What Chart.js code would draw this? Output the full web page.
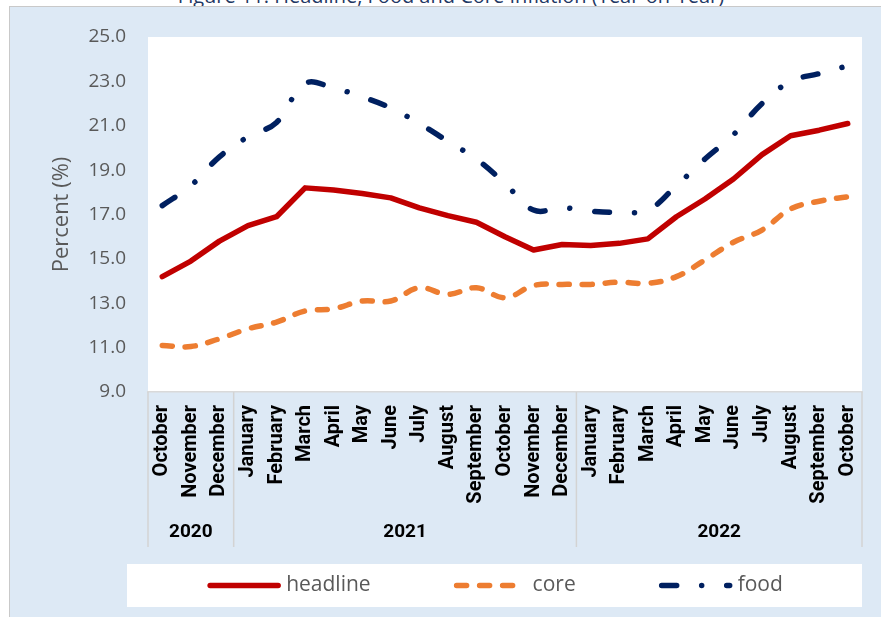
<!DOCTYPE html>
<html>
<head>
<meta charset="utf-8">
<script src="https://cdn.jsdelivr.net/npm/chart.js@4.4.0/dist/chart.umd.min.js"></script>
<style>
  html, body { margin: 0; padding: 0; background: #fff; width: 881px; height: 617px; overflow: hidden; }
  #title {
    position: absolute; top: -14px; left: 451px; transform: translateX(-50%);
    white-space: nowrap; font: 20px "Open Sans", sans-serif; line-height: 20px; color: #1f3864;
  }
  #panel {
    position: absolute; left: 9px; top: 6px; width: 871px; height: 610px;
    background: #dde9f5; border-left: 1px solid #c9c9c9; border-top: 1px solid #c9c9c9;
  }
  #panel canvas { display: block; }
</style>
</head>
<body>
<div id="title">Figure 11: Headline, Food and Core Inflation (Year-on-Year)</div>
<div id="panel"><canvas id="inflationChart" width="871" height="610"></canvas></div>
<script>
const months = ["October", "November", "December",
  "January", "February", "March", "April", "May", "June", "July", "August", "September", "October", "November", "December",
  "January", "February", "March", "April", "May", "June", "July", "August", "September", "October"];
const years = ["2020", "2020", "2020",
  "2021", "2021", "2021", "2021", "2021", "2021", "2021", "2021", "2021", "2021", "2021", "2021",
  "2022", "2022", "2022", "2022", "2022", "2022", "2022", "2022", "2022", "2022"];

const headline = [14.2, 14.9, 15.8, 16.5, 16.9, 18.2, 18.1, 17.95, 17.75, 17.3, 16.95, 16.65, 16.0,
  15.4, 15.65, 15.6, 15.7, 15.9, 16.9, 17.7, 18.6, 19.7, 20.55, 20.8, 21.1];
const core = [11.1, 11.05, 11.4, 11.85, 12.15, 12.65, 12.75, 13.1, 13.1, 13.7, 13.4, 13.7, 13.25,
  13.8, 13.85, 13.85, 13.95, 13.9, 14.2, 14.95, 15.75, 16.3, 17.25, 17.6, 17.8];
const food = [17.4, 18.3, 19.6, 20.5, 21.15, 22.9, 22.7, 22.3, 21.8, 21.1, 20.3, 19.5, 18.4,
  17.2, 17.3, 17.15, 17.1, 17.2, 18.3, 19.5, 20.6, 22.0, 23.0, 23.35, 23.7];

const yMin = 9, yMax = 25, yStep = 2;
const xAxisHeight = 172;

// white plotting area over the blue panel
const plotBackground = {
  id: "plotBackground",
  beforeDraw(chart) {
    const { ctx, chartArea: a } = chart;
    ctx.save();
    ctx.fillStyle = "#ffffff";
    ctx.fillRect(a.left, a.top, a.right - a.left, a.bottom - a.top);
    ctx.restore();
  },
};

// year row under the month labels, with separators between years
const yearGroups = {
  id: "yearGroups",
  afterDraw(chart) {
    const { ctx, chartArea: a } = chart;
    const x = chart.scales.x;
    const step = x.getPixelForValue(1) - x.getPixelForValue(0);
    const groups = [];
    years.forEach((y, i) => {
      if (!groups.length || groups[groups.length - 1].label != y) groups.push({ label: y, from: i, to: i });
      else groups[groups.length - 1].to = i;
    });
    ctx.save();
    ctx.strokeStyle = "#d3d3d3";
    ctx.lineWidth = 1.5;
    ctx.fillStyle = "#000";
    ctx.font = "bold 19px Roboto";
    ctx.textAlign = "center";
    ctx.textBaseline = "middle";
    groups.forEach((g, k) => {
      const left = x.getPixelForValue(g.from) - step / 2;
      const right = x.getPixelForValue(g.to) + step / 2;
      ctx.beginPath();
      ctx.moveTo(left, a.bottom);
      ctx.lineTo(left, a.bottom + 155);
      if (k == groups.length - 1) {
        ctx.moveTo(right, a.bottom);
        ctx.lineTo(right, a.bottom + 155);
      }
      ctx.stroke();
      ctx.fillText(g.label, (left + right) / 2, a.bottom + 140);
    });
    ctx.restore();
  },
};

// legend in a white strip at the bottom
const legendBox = {
  id: "legendBox",
  afterDraw(chart) {
    const { ctx, chartArea: a } = chart;
    const top = a.bottom + xAxisHeight;
    const bottom = chart.height - 10;
    const left = a.left - 21;
    const right = a.right;
    ctx.save();
    ctx.fillStyle = "#ffffff";
    ctx.fillRect(left, top, right - left, bottom - top);
    ctx.font = '21px "Open Sans"';
    ctx.textBaseline = "middle";
    const sample = 68, textGap = 8, itemGap = 86;
    const items = chart.data.datasets.map((ds) => ({ ds, w: sample + textGap + ctx.measureText(ds.label).width }));
    const total = items.reduce((s, it) => s + it.w, 0) + itemGap * (items.length - 1);
    let cx = (left + right) / 2 - total / 2 + 2;
    const cy = (top + bottom) / 2;
    items.forEach((it) => {
      ctx.strokeStyle = it.ds.borderColor;
      ctx.lineWidth = it.ds.borderWidth;
      ctx.lineCap = "round";
      ctx.setLineDash(it.ds.borderDash || []);
      ctx.beginPath();
      ctx.moveTo(cx, cy);
      ctx.lineTo(cx + sample, cy);
      ctx.stroke();
      ctx.setLineDash([]);
      ctx.fillStyle = "#595959";
      ctx.fillText(it.ds.label, cx + sample + textGap, cy);
      cx += it.w + itemGap;
    });
    ctx.restore();
  },
};

// invisible tick marks push the labels away from the plot without adding layout padding
const hiddenTicks = (len) => ({
  display: true,
  drawOnChartArea: false,
  drawTicks: true,
  tickLength: len,
  color: "rgba(0,0,0,0)",
});

var ctx = document.getElementById("inflationChart").getContext("2d");
var inflationChart = new Chart(ctx, {
  type: "line",
  data: {
    labels: months,
    datasets: [
      {
        label: "headline",
        data: headline,
        borderColor: "#c00000",
        borderWidth: 5.5,
        borderCapStyle: "round",
        borderJoinStyle: "round",
        tension: 0,
      },
      {
        label: "core",
        data: core,
        borderColor: "#ed7d31",
        borderWidth: 5.5,
        borderDash: [10, 13],
        borderCapStyle: "round",
        tension: 0.4,
      },
      {
        label: "food",
        data: food,
        borderColor: "#002060",
        borderWidth: 5.5,
        borderDash: [15, 25, 0.01, 25],
        borderCapStyle: "round",
        tension: 0.4,
      },
    ],
  },
  options: {
    responsive: false,
    animation: false,
    layout: { padding: { left: 0, right: 19, top: 30, bottom: 53 } },
    elements: { point: { radius: 0 } },
    plugins: { legend: { display: false }, tooltip: { enabled: false } },
    scales: {
      x: {
        offset: true,
        grid: hiddenTicks(13),
        border: { display: true, color: "#d9d9d9", width: 1.5 },
        ticks: {
          autoSkip: false,
          minRotation: 90,
          maxRotation: 90,
          padding: 0,
          color: "#000",
          font: { family: "Roboto", weight: "bold", size: 20 },
        },
        afterFit: (s) => { s.height = xAxisHeight; },
      },
      y: {
        min: yMin,
        max: yMax,
        grid: hiddenTicks(22),
        border: { display: false },
        ticks: {
          stepSize: yStep,
          padding: 0,
          color: "#595959",
          font: { family: "Open Sans", size: 19 },
          callback: (v) => v.toFixed(1),
        },
        title: {
          display: true,
          text: "Percent (%)",
          color: "#595959",
          font: { family: "Open Sans", size: 22 },
          padding: { top: 39, bottom: 0 },
        },
        afterFit: (s) => { s.width = 138; },
      },
    },
  },
  plugins: [plotBackground, yearGroups, legendBox],
});
</script>
</body>
</html>
